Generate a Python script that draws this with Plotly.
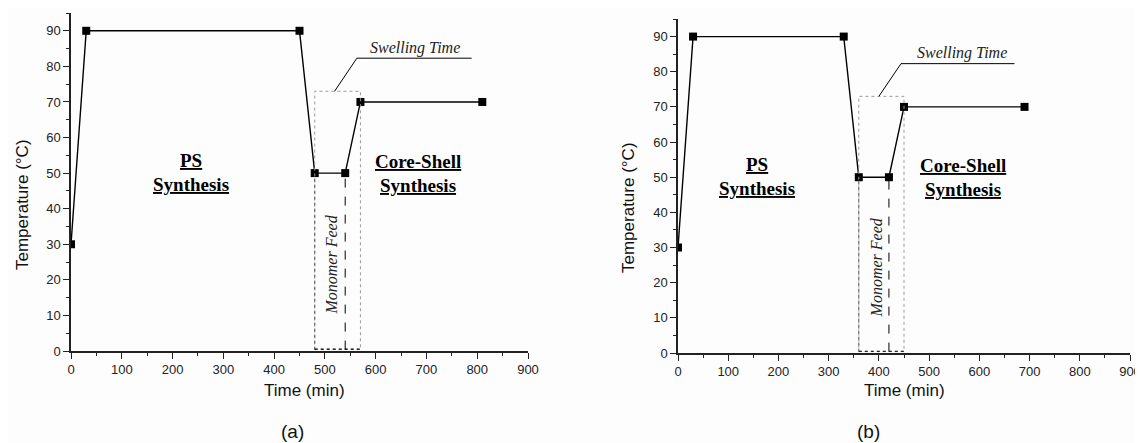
import plotly.graph_objects as go

# ---- data ----
time_a = [0, 30, 450, 480, 540, 570, 810]
temp_a = [30, 90, 90, 50, 50, 70, 70]
time_b = [0, 30, 330, 360, 420, 450, 690]
temp_b = [30, 90, 90, 50, 50, 70, 70]
x_ticks = [0, 100, 200, 300, 400, 500, 600, 700, 800, 900]
y_ticks = [0, 10, 20, 30, 40, 50, 60, 70, 80, 90]
panel_labels = ["(a)", "(b)"]
swell_top = 73

W, H = 1143, 443
OFF = 8  # page body margin offset
BG = "#fdfdfd"
SANS = "Arial, Liberation Sans, sans-serif"
SERIF = "Liberation Serif, Times New Roman, DejaVu Serif, serif"


def fx(px):
    return (px - OFF) / W


def fy(py):
    return (H - (py - OFF)) / H


fig = go.Figure()

panels = [
    dict(t=time_a, y=temp_a, xa="x", ya="y", xd=[fx(71), fx(528)], yd=[fy(351), fy(13)],
         ps_x=237, cs_x=683, sw_text_x=677, cl=(519, 563, 789), mf_x=514, xlab=304, lab=292,
         ytx=22, yty=205),
    dict(t=time_b, y=temp_b, xa="x2", ya="y2", xd=[fx(678), fx(1130)], yd=[fy(353), fy(19)],
         ps_x=157, cs_x=567, sw_text_x=566, cl=(400, 444, 670), mf_x=396, xlab=904, lab=868,
         ytx=629, yty=208),
]

shapes = []
annotations = []
for i, p in enumerate(panels):
    fig.add_trace(go.Scatter(
        x=p["t"], y=p["y"], mode="lines+markers", xaxis=p["xa"], yaxis=p["ya"],
        line=dict(color="black", width=1.4),
        marker=dict(symbol="square", size=8, color="black"),
        showlegend=False, cliponaxis=True,
    ))
    t, xr, yr = p["t"], p["xa"], p["ya"]
    s0, mf1, s1 = t[3], t[4], t[5]
    # swelling time box (light grey dotted)
    shapes.append(dict(type="rect", xref=xr, yref=yr, x0=s0, x1=s1, y0=0.4, y1=swell_top,
                       line=dict(color="#9a9a9a", width=1, dash="dot")))
    # monomer feed region
    shapes.append(dict(type="line", xref=xr, yref=yr, x0=mf1, x1=mf1, y0=0.4, y1=p["y"][4],
                       line=dict(color="black", width=1, dash="dash")))
    shapes.append(dict(type="line", xref=xr, yref=yr, x0=s0, x1=s0, y0=0.4, y1=p["y"][3],
                       line=dict(color="#555555", width=1, dash="dot")))
    shapes.append(dict(type="line", xref=xr, yref=yr, x0=s0, x1=s1, y0=0.5, y1=0.5,
                       line=dict(color="black", width=1.2, dash="dot")))
    # callout line
    c0, c1, c2 = p["cl"]
    shapes.append(dict(type="path", xref=xr, yref=yr,
                       path=f"M {c0},{swell_top} L {c1},82.3 L {c2},82.3",
                       line=dict(color="black", width=1)))
    # texts
    C = dict(showarrow=False, xanchor="center", yanchor="middle")
    annotations += [
        dict(C, x=p["ps_x"], y=53.6, xref=xr, yref=yr, text="<b><u>PS</u></b>",
             font=dict(family=SERIF, size=19, color="black")),
        dict(C, x=p["ps_x"], y=46.8, xref=xr, yref=yr, text="<b><u>Synthesis</u></b>",
             font=dict(family=SERIF, size=19, color="black")),
        dict(C, x=p["cs_x"], y=53.3, xref=xr, yref=yr, text="<b><u>Core-Shell</u></b>",
             font=dict(family=SERIF, size=19, color="black")),
        dict(C, x=p["cs_x"], y=46.5, xref=xr, yref=yr, text="<b><u>Synthesis</u></b>",
             font=dict(family=SERIF, size=19, color="black")),
        dict(C, x=p["sw_text_x"], y=85.3, xref=xr, yref=yr, text="<i>Swelling Time</i>",
             font=dict(family=SERIF, size=16, color="#222")),
        dict(C, x=p["mf_x"], y=24.3, xref=xr, yref=yr, text="<i>Monomer Feed</i>",
             textangle=-90, font=dict(family=SERIF, size=16, color="#222")),
        dict(C, x=fx(p["xlab"]), y=fy(390), xref="paper", yref="paper", text="Time (min)",
             font=dict(family=SANS, size=17, color="#111")),
        dict(C, x=fx(p["ytx"]), y=fy(p["yty"]), xref="paper", yref="paper", text="Temperature (°C)",
             textangle=-90, font=dict(family=SANS, size=17, color="#111")),
        dict(C, x=fx(p["lab"]), y=fy(431), xref="paper", yref="paper", text=panel_labels[i],
             font=dict(family=SANS, size=19, color="#111")),
    ]

axis_common = dict(showline=True, linecolor="#222", linewidth=1.5, ticks="outside", ticklen=6,
                   tickwidth=1.3, tickcolor="#222", showgrid=False, zeroline=False, automargin=False,
                   tickfont=dict(family=SANS, size=13, color="#222"))

for i, p in enumerate(panels):
    sx = "" if i == 0 else "2"
    fig.update_layout(**{
        f"xaxis{sx}": dict(axis_common, domain=p["xd"], range=[0, 900], tickvals=x_ticks,
                           anchor=f"y{sx}",
                           minor=dict(ticks="outside", ticklen=3, dtick=50, tickcolor="#222", tickwidth=1.2)),
        f"yaxis{sx}": dict(axis_common, domain=p["yd"], range=[0, 95], tickvals=y_ticks,
                           anchor=f"x{sx}",
                           minor=dict(ticks="outside", ticklen=3, dtick=5, tickcolor="#222", tickwidth=1.2)),
    })

fig.update_layout(width=W, height=H, margin=dict(l=0, r=0, t=0, b=0),
                  paper_bgcolor=BG, plot_bgcolor=BG,
                  shapes=shapes, annotations=annotations)

fig.write_html("out.html")
